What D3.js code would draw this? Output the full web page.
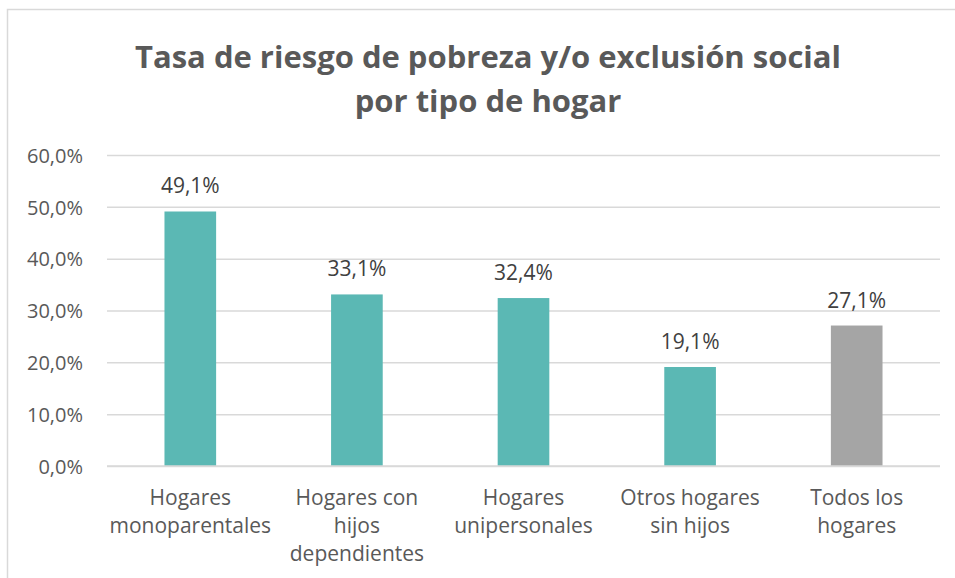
<!DOCTYPE html>
<html>
<head>
<meta charset="utf-8">
<script src="https://cdn.jsdelivr.net/npm/d3@7"></script>
<style>
  body { margin: 0; background: #fff; }
  text { font-family: "Open Sans", "Liberation Sans", sans-serif; }
</style>
</head>
<body>
<svg id="chart" width="955" height="578"></svg>
<script>
/* Data */
var categories = [
  ["Hogares", "monoparentales"],
  ["Hogares con", "hijos", "dependientes"],
  ["Hogares", "unipersonales"],
  ["Otros hogares", "sin hijos"],
  ["Todos los", "hogares"]
];
var values = [49.1, 33.1, 32.4, 19.1, 27.1];
var barColors = ["#5BB8B4", "#5BB8B4", "#5BB8B4", "#5BB8B4", "#A5A5A5"];
var yTicks = [0, 10, 20, 30, 40, 50, 60];
var titleLines = ["Tasa de riesgo de pobreza y/o exclusión social", "por tipo de hogar"];

var svg = d3.select("svg#chart");

// chart frame
svg.append("rect")
  .attr("x", 7.5).attr("y", 9.5)
  .attr("width", 960).attr("height", 580)
  .attr("fill", "#fff")
  .attr("stroke", "#D9D9D9")
  .attr("stroke-width", 1.5);

var plotLeft = 107, plotRight = 940, plotTop = 155, plotBottom = 466;

var x = d3.scaleBand()
  .domain(d3.range(values.length))
  .range([plotLeft, plotRight])
  .paddingInner(0.69)
  .paddingOuter(0.345);

var y = d3.scaleLinear()
  .domain([0, 60])
  .range([plotBottom, plotTop]);

var fmt = function (v) { return d3.format(".1f")(v).replace(".", ",") + "%"; };

// gridlines + y labels
var yAxis = d3.axisLeft(y)
  .tickValues(yTicks)
  .tickSize(-(plotRight - plotLeft))
  .tickPadding(24)
  .tickFormat(fmt);

var gy = svg.append("g")
  .attr("transform", "translate(" + plotLeft + ",0)")
  .call(yAxis);
gy.attr("font-family", null).attr("font-size", null);
gy.select(".domain").remove();
gy.selectAll(".tick line").attr("stroke", "#D9D9D9").attr("stroke-width", 1.5);
gy.selectAll(".tick text")
  .attr("fill", "#595959")
  .attr("dy", "0.36em")
  .style("font-size", "20px");

// bars
svg.selectAll("rect.bar")
  .data(values)
  .enter()
  .append("rect")
  .attr("class", "bar")
  .attr("x", function (d, i) { return x(i); })
  .attr("y", function (d) { return y(d); })
  .attr("width", x.bandwidth())
  .attr("height", function (d) { return y(0) - y(d); })
  .attr("fill", function (d, i) { return barColors[i]; });

// baseline over bars
svg.append("line")
  .attr("x1", plotLeft).attr("x2", plotRight)
  .attr("y1", y(0)).attr("y2", y(0))
  .attr("stroke", "#D9D9D9").attr("stroke-width", 1.5);

// value labels
svg.selectAll("text.val")
  .data(values)
  .enter()
  .append("text")
  .attr("class", "val")
  .attr("x", function (d, i) { return x(i) + x.bandwidth() / 2; })
  .attr("y", function (d) { return y(d) - 18; })
  .attr("text-anchor", "middle")
  .attr("fill", "#404040")
  .style("font-size", "21px")
  .text(fmt);

// category labels
var cat = svg.selectAll("text.cat")
  .data(categories)
  .enter()
  .append("text")
  .attr("class", "cat")
  .attr("text-anchor", "middle")
  .attr("fill", "#595959")
  .style("font-size", "21px")
  .attr("transform", function (d, i) {
    return "translate(" + (x(i) + x.bandwidth() / 2) + "," + (plotBottom + 39) + ")";
  });
cat.selectAll("tspan")
  .data(function (d) { return d; })
  .enter()
  .append("tspan")
  .attr("x", 0)
  .attr("y", function (d, j) { return j * 28; })
  .text(function (d) { return d; });

// title
svg.selectAll("text.title")
  .data(titleLines)
  .enter()
  .append("text")
  .attr("class", "title")
  .attr("x", 488)
  .attr("y", function (d, i) { return 68 + i * 44; })
  .attr("text-anchor", "middle")
  .attr("fill", "#595959")
  .style("font-size", "31px")
  .style("font-weight", "bold")
  .text(function (d) { return d; });
</script>
</body>
</html>
